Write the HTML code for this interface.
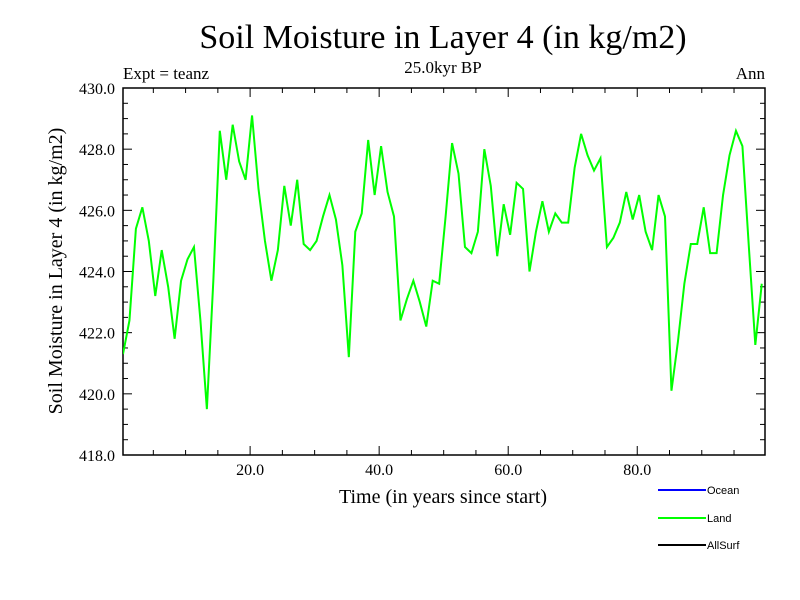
<!DOCTYPE html>
<html><head><meta charset="utf-8"><style>
body{margin:0;background:#fff}
svg{display:block}
text{font-family:"Liberation Serif",serif;fill:#000}
.lg{font-family:"Liberation Sans",sans-serif;font-size:11px}
</style></head><body>
<svg id="c" width="800" height="600">
<text x="443" y="48" font-size="34" text-anchor="middle">Soil Moisture in Layer 4 (in kg/m2)</text>
<text x="123" y="79" font-size="17">Expt = teanz</text>
<text x="443" y="73" font-size="17" text-anchor="middle">25.0kyr BP</text>
<text x="765" y="79" font-size="17" text-anchor="end">Ann</text>
<text x="443" y="503" font-size="20" text-anchor="middle">Time (in years since start)</text>
<text transform="translate(62,271) rotate(-90)" font-size="20" text-anchor="middle">Soil Moisture in Layer 4 (in kg/m2)</text>
<g id="axes"></g>
<g id="series"></g>
<g>
<line x1="658" y1="490" x2="706" y2="490" stroke="#0000ff" stroke-width="2"/>
<text class="lg" x="707" y="494">Ocean</text>
<line x1="658" y1="518" x2="706" y2="518" stroke="#00ff00" stroke-width="2"/>
<text class="lg" x="707" y="522">Land</text>
<line x1="658" y1="545" x2="706" y2="545" stroke="#000" stroke-width="2"/>
<text class="lg" x="707" y="549">AllSurf</text>
</g>
</svg>
<script>
const yTicks=[418,420,422,424,426,428,430];
const xTicks=[20,40,60,80];
const landValues=[421.3,422.4,425.4,426.1,425.0,423.2,424.7,423.5,421.8,423.7,424.4,424.8,422.4,419.5,423.7,428.6,427.0,428.8,427.6,427.0,429.1,426.7,425.0,423.7,424.7,426.8,425.5,427.0,424.9,424.7,425.0,425.8,426.5,425.7,424.2,421.2,425.3,425.9,428.3,426.5,428.1,426.6,425.8,422.4,423.1,423.7,423.0,422.2,423.7,423.6,425.8,428.2,427.2,424.8,424.6,425.3,428.0,426.8,424.5,426.2,425.2,426.9,426.7,424.0,425.3,426.3,425.3,425.9,425.6,425.6,427.4,428.5,427.8,427.3,427.7,424.8,425.1,425.6,426.6,425.7,426.5,425.3,424.7,426.5,425.8,420.1,421.7,423.6,424.9,424.9,426.1,424.6,424.6,426.5,427.8,428.6,428.1,424.8,421.6,423.6];
const X0=123,X1=765,Y0=88,Y1=455,xmin=0.3,xmax=99.8,ymin=418,ymax=430;
const sx=t=>X0+(t-xmin)/(xmax-xmin)*(X1-X0);
const sy=v=>Y1-(v-ymin)/(ymax-ymin)*(Y1-Y0);
const NS="http://www.w3.org/2000/svg";
const ax=document.getElementById('axes');
function mk(tag,at,parent){const e=document.createElementNS(NS,tag);for(const k in at)e.setAttribute(k,at[k]);parent.appendChild(e);return e;}
const fr=mk('rect',{x:X0,y:Y0,width:X1-X0,height:Y1-Y0,fill:'none',stroke:'#000','stroke-width':1.5},ax);


for(let v=ymin;v<=ymax+1e-9;v+=0.5){
 const major=Math.abs(v-Math.round(v/2)*2)<1e-9;const L=major?9:5;const y=sy(v);
 const a=mk('line',{x1:X0,y1:y,x2:X0+L,y2:y,stroke:'#000'},ax);
 
 
 const b=mk('line',{x1:X1,y1:y,x2:X1-L,y2:y,stroke:'#000'},ax);
 
 
}
yTicks.forEach(v=>{const t=mk('text',{x:X0-8,y:sy(v)+6,'font-size':16,'text-anchor':'end'},ax);t.textContent=v.toFixed(1);
 
 });
for(let v=5;v<xmax;v+=5){
 const major=v%20===0;const L=major?9:5;const x=sx(v);
 const a=mk('line',{x1:x,y1:Y1,x2:x,y2:Y1-L,stroke:'#000'},ax);
 
 
 const b=mk('line',{x1:x,y1:Y0,x2:x,y2:Y0+L,stroke:'#000'},ax);
 
 
}
xTicks.forEach(v=>{const t=mk('text',{x:sx(v),y:Y1+20,'font-size':16,'text-anchor':'middle'},ax);t.textContent=v.toFixed(1);
 
 });
const cp=mk('clipPath',{id:'pc'},document.getElementById('c'));
mk('rect',{x:X0,y:Y0,width:X1-X0,height:Y1-Y0},cp);
const pts=landValues.map((v,i)=>sx(xmin+i)+','+sy(v)).join(' ');
const pl=mk('polyline',{points:pts,fill:'none',stroke:'#00ff00','stroke-width':2,'clip-path':'url(#pc)'},document.getElementById('series'));


</script>
</body></html>
